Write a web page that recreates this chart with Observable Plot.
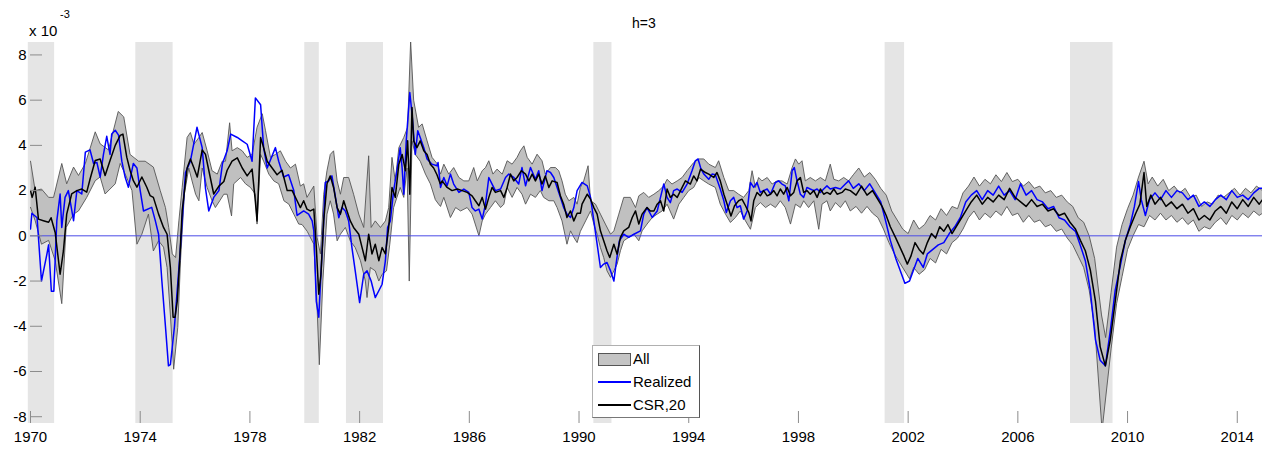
<!DOCTYPE html>
<html><head><meta charset="utf-8">
<script src="https://cdn.jsdelivr.net/npm/d3@7"></script>
<script src="https://cdn.jsdelivr.net/npm/@observablehq/plot@0.6"></script>
<style>
body{margin:0;background:#fff;font-family:"Liberation Sans",Arial,sans-serif;}
#wrap{position:relative;width:1268px;height:451px;overflow:hidden;}
.ov{position:absolute;color:#000;white-space:nowrap;line-height:1;}
#legend{position:absolute;left:592px;top:345px;width:108px;height:73px;background:#fff;border:1px solid #b0b0b0;border-right-color:#555;border-bottom-color:#777;box-sizing:border-box;font-size:15px;}
#legend .row{position:absolute;left:5px;height:20px;width:100px;}
#legend .sw{position:absolute;left:0;width:33px;}
#legend .lb{position:absolute;left:35px;top:0;line-height:20px;}
</style></head><body><div id="wrap"></div>
<script>
// Values are in units of 1e-3
const xTicks = [1970,1974,1978,1982,1986,1990,1994,1998,2002,2006,2010,2014];
const yTicks = [-8,-6,-4,-2,0,2,4,6,8];
const recessions = [[1969.92,1970.88],[1973.84,1975.2],[1980.0,1980.53],[1981.52,1982.87],[1990.54,1991.2],[2001.16,2001.87],[2007.92,2009.47]];
const legendLabels = ["All","Realized","CSR,20"];

const realized = [[1970.0,0.3],[1970.05,1.0],[1970.24,0.8],[1970.4,-2.0],[1970.6,-0.8],[1970.66,-0.4],[1970.76,-2.45],[1970.85,-2.45],[1970.96,0.67],[1971.08,1.85],[1971.14,0.37],[1971.26,1.7],[1971.38,2.0],[1971.57,0.67],[1971.69,2.0],[1971.87,1.85],[1972.0,3.7],[1972.17,3.8],[1972.3,3.2],[1972.42,3.25],[1972.54,2.6],[1972.66,3.6],[1972.78,4.4],[1972.9,3.6],[1972.96,4.5],[1973.09,4.67],[1973.21,4.45],[1973.33,3.3],[1973.45,2.6],[1973.57,2.15],[1973.75,3.2],[1973.88,3.0],[1974.0,2.0],[1974.12,1.1],[1974.42,1.26],[1974.55,0.67],[1974.67,0.07],[1974.79,-2.0],[1974.92,-4.0],[1975.03,-5.75],[1975.1,-5.7],[1975.25,-4.0],[1975.45,-0.8],[1975.65,2.8],[1975.83,3.3],[1976.07,4.8],[1976.26,3.9],[1976.38,2.1],[1976.5,1.1],[1976.68,1.7],[1976.87,2.0],[1977.0,3.2],[1977.17,3.76],[1977.3,4.5],[1977.54,4.35],[1977.72,4.2],[1977.9,4.05],[1978.08,3.3],[1978.2,6.1],[1978.39,5.8],[1978.5,3.9],[1978.63,3.0],[1978.93,3.9],[1979.05,3.3],[1979.23,2.6],[1979.41,2.7],[1979.6,2.0],[1979.72,0.9],[1979.96,1.1],[1980.14,0.96],[1980.27,0.66],[1980.33,0.22],[1980.42,-2.9],[1980.51,-3.6],[1980.59,-1.7],[1980.69,0.66],[1980.75,2.36],[1980.87,2.43],[1980.99,2.65],[1981.12,1.7],[1981.24,0.8],[1981.36,1.25],[1981.48,1.1],[1981.6,0.66],[1981.72,-0.52],[1981.84,-1.55],[1982.0,-2.95],[1982.15,-1.7],[1982.27,-1.55],[1982.42,-2.0],[1982.57,-2.73],[1982.7,-2.43],[1982.82,-2.14],[1982.94,-1.1],[1983.02,0.37],[1983.12,0.66],[1983.24,2.0],[1983.36,2.88],[1983.48,3.9],[1983.55,3.0],[1983.61,1.84],[1983.7,4.2],[1983.83,6.34],[1983.91,5.4],[1984.03,3.6],[1984.12,4.65],[1984.21,4.35],[1984.34,3.9],[1984.46,3.4],[1984.64,3.17],[1984.82,3.1],[1984.86,3.24],[1984.95,2.14],[1985.07,2.58],[1985.19,2.21],[1985.31,2.73],[1985.43,2.29],[1985.62,1.92],[1985.8,2.07],[1985.98,1.92],[1986.1,1.25],[1986.22,1.1],[1986.35,1.18],[1986.47,0.74],[1986.59,1.4],[1986.71,2.58],[1986.83,2.29],[1986.95,2.0],[1987.14,2.07],[1987.32,2.58],[1987.44,2.73],[1987.62,2.58],[1987.8,2.29],[1987.92,3.02],[1988.05,2.21],[1988.23,3.02],[1988.41,2.5],[1988.53,2.88],[1988.65,2.0],[1988.83,2.88],[1988.96,2.8],[1989.08,2.58],[1989.2,2.14],[1989.32,1.7],[1989.44,1.25],[1989.56,0.96],[1989.69,0.81],[1989.81,1.25],[1989.93,2.0],[1990.11,2.36],[1990.3,2.21],[1990.42,1.7],[1990.54,0.66],[1990.66,-0.37],[1990.78,-1.4],[1990.9,-1.25],[1991.02,-1.18],[1991.15,-1.55],[1991.27,-2.0],[1991.35,-1.25],[1991.47,-0.22],[1991.63,0.07],[1991.81,-0.07],[1992.0,0.07],[1992.24,0.22],[1992.36,0.96],[1992.48,1.25],[1992.67,0.81],[1992.85,1.1],[1992.97,1.7],[1993.09,2.29],[1993.21,1.7],[1993.33,1.47],[1993.45,2.0],[1993.58,2.07],[1993.76,1.92],[1993.94,2.29],[1994.12,2.88],[1994.24,3.32],[1994.34,3.4],[1994.43,3.02],[1994.55,2.73],[1994.73,2.5],[1994.85,2.73],[1994.97,2.7],[1995.15,2.07],[1995.28,1.55],[1995.37,1.03],[1995.52,1.55],[1995.64,1.7],[1995.76,1.25],[1995.88,1.33],[1996.0,0.74],[1996.13,1.1],[1996.25,2.36],[1996.37,2.14],[1996.49,2.36],[1996.61,1.92],[1996.73,2.0],[1996.86,2.07],[1996.98,1.84],[1997.16,2.36],[1997.28,2.43],[1997.4,2.29],[1997.52,2.21],[1997.65,1.55],[1997.77,2.88],[1997.85,3.02],[1997.95,2.43],[1998.07,1.84],[1998.19,1.7],[1998.31,2.14],[1998.43,2.07],[1998.56,2.0],[1998.68,2.07],[1998.8,1.92],[1998.92,2.07],[1999.04,2.21],[1999.16,2.07],[1999.35,2.14],[1999.53,2.07],[1999.71,2.29],[1999.83,2.43],[2000.0,2.1],[2000.2,2.3],[2000.4,2.0],[2000.6,2.3],[2000.8,1.9],[2001.0,1.5],[2001.15,0.8],[2001.35,-0.2],[2001.55,-1.0],[2001.7,-1.5],[2001.88,-2.1],[2002.05,-2.0],[2002.2,-1.5],[2002.35,-1.0],[2002.55,-1.4],[2002.7,-0.8],[2002.9,-0.6],[2003.1,-0.4],[2003.3,-0.3],[2003.5,0.1],[2003.7,0.4],[2003.9,0.8],[2004.1,1.5],[2004.3,1.8],[2004.5,2.0],[2004.7,1.6],[2004.9,2.0],[2005.1,1.8],[2005.3,2.2],[2005.5,1.8],[2005.7,2.0],[2005.9,1.6],[2006.1,2.3],[2006.3,1.8],[2006.5,2.0],[2006.7,1.6],[2006.9,1.5],[2007.1,1.2],[2007.3,1.3],[2007.5,0.8],[2007.7,0.7],[2007.9,0.4],[2008.1,0.2],[2008.3,-0.5],[2008.46,-1.1],[2008.64,-2.4],[2008.83,-4.6],[2009.0,-5.5],[2009.19,-5.75],[2009.37,-4.2],[2009.55,-2.4],[2009.74,-1.3],[2009.92,-0.2],[2010.1,0.5],[2010.25,1.3],[2010.4,2.4],[2010.5,1.6],[2010.65,0.9],[2010.8,1.6],[2011.0,1.9],[2011.2,1.6],[2011.4,2.0],[2011.6,1.7],[2011.8,2.0],[2012.0,1.9],[2012.2,1.6],[2012.4,1.8],[2012.6,1.3],[2012.8,1.5],[2013.0,1.3],[2013.2,1.6],[2013.4,1.8],[2013.6,1.6],[2013.8,2.0],[2014.0,1.7],[2014.2,1.8],[2014.4,1.6],[2014.6,1.9],[2014.8,2.1],[2014.92,2.1]];

const csr = [[1970.0,2.0],[1970.06,1.7],[1970.11,1.9],[1970.17,2.15],[1970.29,0.74],[1970.47,0.67],[1970.66,0.6],[1970.75,0.8],[1970.9,0.15],[1971.08,-1.7],[1971.2,-0.67],[1971.32,0.96],[1971.5,1.85],[1971.69,2.0],[1971.87,2.07],[1972.05,1.93],[1972.17,2.5],[1972.36,3.33],[1972.54,3.4],[1972.72,2.67],[1972.9,3.33],[1973.09,4.0],[1973.27,4.44],[1973.37,4.5],[1973.51,3.48],[1973.63,2.9],[1973.75,2.44],[1973.88,2.15],[1974.06,2.6],[1974.24,2.15],[1974.36,1.78],[1974.48,1.7],[1974.67,0.96],[1974.85,0.37],[1974.98,0.07],[1975.1,-1.4],[1975.2,-3.6],[1975.27,-3.6],[1975.35,-2.9],[1975.44,-1.1],[1975.53,1.1],[1975.71,3.0],[1975.83,3.4],[1975.96,3.0],[1976.08,2.6],[1976.26,3.8],[1976.38,3.6],[1976.5,2.9],[1976.68,1.85],[1976.87,2.2],[1977.05,2.4],[1977.17,2.9],[1977.35,3.3],[1977.54,3.45],[1977.72,3.0],[1977.9,2.65],[1978.08,2.95],[1978.2,1.5],[1978.26,0.66],[1978.39,4.35],[1978.5,3.9],[1978.63,3.3],[1978.81,3.0],[1978.99,2.7],[1979.17,2.9],[1979.36,2.0],[1979.54,2.0],[1979.72,1.55],[1979.84,1.25],[1979.96,1.55],[1980.08,1.18],[1980.2,1.1],[1980.33,1.18],[1980.42,-0.5],[1980.51,-2.58],[1980.59,-1.7],[1980.69,0.66],[1980.81,2.3],[1980.93,2.65],[1981.05,2.14],[1981.18,1.25],[1981.3,0.96],[1981.42,1.55],[1981.54,1.1],[1981.66,0.66],[1981.78,0.37],[1981.97,0.07],[1982.09,-0.52],[1982.21,-1.1],[1982.33,0.07],[1982.45,-0.8],[1982.57,-0.37],[1982.7,-1.1],[1982.82,-0.52],[1982.94,-0.8],[1983.06,0.37],[1983.18,2.14],[1983.3,1.7],[1983.43,3.17],[1983.55,3.6],[1983.67,2.88],[1983.75,4.2],[1983.83,1.84],[1983.91,5.68],[1983.97,4.2],[1984.09,3.9],[1984.21,4.2],[1984.34,3.76],[1984.46,3.6],[1984.58,3.17],[1984.7,3.0],[1984.82,2.7],[1984.94,2.3],[1985.01,2.43],[1985.19,2.14],[1985.37,2.0],[1985.56,2.07],[1985.74,2.0],[1985.92,1.92],[1986.1,1.77],[1986.22,1.55],[1986.35,1.33],[1986.47,1.7],[1986.59,1.18],[1986.71,1.7],[1986.83,2.14],[1986.95,1.92],[1987.14,2.0],[1987.26,1.7],[1987.38,2.14],[1987.5,2.73],[1987.62,2.43],[1987.74,2.58],[1987.9,2.88],[1988.05,2.73],[1988.17,2.43],[1988.29,2.73],[1988.41,2.43],[1988.53,2.73],[1988.65,2.29],[1988.77,2.65],[1988.9,2.14],[1989.02,2.43],[1989.2,2.36],[1989.32,1.77],[1989.44,1.4],[1989.56,0.81],[1989.69,1.1],[1989.81,0.66],[1989.93,1.0],[1990.05,1.0],[1990.11,1.4],[1990.3,1.84],[1990.42,1.62],[1990.54,1.25],[1990.66,0.96],[1990.78,0.22],[1990.9,-0.22],[1991.02,-0.66],[1991.12,-0.96],[1991.27,-0.37],[1991.39,-0.81],[1991.51,-0.07],[1991.63,0.22],[1991.81,0.37],[1991.94,0.81],[1992.06,1.1],[1992.18,0.52],[1992.3,0.96],[1992.48,1.25],[1992.6,1.1],[1992.73,1.1],[1992.85,1.4],[1992.97,1.55],[1993.09,1.1],[1993.21,2.07],[1993.33,1.7],[1993.45,1.84],[1993.58,1.7],[1993.76,2.14],[1993.88,2.43],[1994.06,2.29],[1994.18,2.65],[1994.3,2.43],[1994.43,2.95],[1994.61,2.8],[1994.73,2.73],[1994.91,2.58],[1995.03,2.8],[1995.15,2.43],[1995.28,1.84],[1995.4,1.4],[1995.54,0.88],[1995.67,1.33],[1995.82,1.55],[1995.94,1.62],[1996.07,1.33],[1996.19,1.03],[1996.27,0.66],[1996.37,1.55],[1996.49,1.92],[1996.61,1.77],[1996.73,2.0],[1996.86,1.77],[1996.98,1.84],[1997.1,2.0],[1997.22,1.77],[1997.34,2.07],[1997.46,1.84],[1997.59,2.14],[1997.71,1.77],[1997.83,1.92],[1997.95,2.43],[1998.07,2.58],[1998.19,1.92],[1998.31,2.0],[1998.43,1.84],[1998.56,2.0],[1998.68,1.7],[1998.8,2.07],[1998.92,1.84],[1999.04,1.92],[1999.16,1.84],[1999.29,2.07],[1999.41,1.84],[1999.59,1.92],[1999.71,2.07],[1999.89,2.0],[2000.1,1.8],[2000.3,2.2],[2000.5,1.8],[2000.7,2.0],[2000.9,1.6],[2001.05,1.3],[2001.2,0.9],[2001.35,0.4],[2001.55,-0.1],[2001.7,-0.5],[2001.85,-0.9],[2001.97,-1.25],[2002.1,-0.9],[2002.25,-0.3],[2002.4,-0.6],[2002.55,-0.8],[2002.7,-0.3],[2002.85,0.1],[2003.0,-0.1],[2003.15,0.4],[2003.3,0.2],[2003.45,0.5],[2003.6,0.1],[2003.75,0.4],[2003.9,0.7],[2004.1,1.1],[2004.3,1.5],[2004.5,1.8],[2004.7,1.4],[2004.9,1.7],[2005.1,1.5],[2005.3,1.8],[2005.5,1.6],[2005.7,2.1],[2005.9,1.7],[2006.1,1.5],[2006.3,1.3],[2006.5,1.6],[2006.7,1.3],[2006.9,1.4],[2007.1,1.1],[2007.3,1.2],[2007.5,0.9],[2007.7,1.0],[2007.9,0.6],[2008.1,0.3],[2008.28,-0.2],[2008.46,-0.66],[2008.64,-1.5],[2008.83,-2.9],[2009.0,-4.9],[2009.19,-5.75],[2009.37,-4.6],[2009.55,-2.9],[2009.74,-1.1],[2009.92,-0.2],[2010.1,0.4],[2010.3,1.0],[2010.45,1.4],[2010.6,2.8],[2010.7,1.3],[2010.85,1.8],[2011.0,1.4],[2011.2,1.7],[2011.4,1.3],[2011.6,1.5],[2011.8,1.2],[2012.0,1.4],[2012.2,1.0],[2012.4,1.2],[2012.6,0.7],[2012.8,0.9],[2013.0,0.7],[2013.2,1.1],[2013.4,1.3],[2013.6,1.0],[2013.8,1.5],[2014.0,1.2],[2014.2,1.6],[2014.4,1.3],[2014.6,1.7],[2014.8,1.4],[2014.92,1.6]];

const bandHigh = [[1970.0,3.3],[1970.17,2.0],[1970.4,2.07],[1970.66,1.7],[1970.84,1.7],[1971.14,3.2],[1971.32,2.3],[1971.57,3.04],[1971.75,2.67],[1972.0,3.2],[1972.36,4.6],[1972.54,4.07],[1972.84,3.8],[1973.2,5.5],[1973.4,5.26],[1973.63,3.6],[1973.94,3.3],[1974.18,3.3],[1974.48,3.04],[1974.73,2.0],[1974.92,1.25],[1975.04,0.37],[1975.17,-0.8],[1975.29,-0.96],[1975.41,0.66],[1975.53,2.14],[1975.71,4.35],[1975.83,4.57],[1975.96,4.05],[1976.14,4.35],[1976.26,4.57],[1976.44,3.76],[1976.62,2.88],[1976.81,2.73],[1976.99,3.3],[1977.11,3.3],[1977.26,5.0],[1977.35,3.76],[1977.54,3.9],[1977.72,3.76],[1977.9,3.47],[1978.08,3.6],[1978.26,4.8],[1978.45,5.4],[1978.57,4.65],[1978.75,3.47],[1978.93,3.6],[1979.11,3.76],[1979.3,3.3],[1979.48,3.0],[1979.66,3.17],[1979.84,2.2],[1979.96,2.3],[1980.08,1.7],[1980.33,2.2],[1980.45,-0.07],[1980.57,-0.8],[1980.69,1.84],[1980.81,2.88],[1980.93,3.6],[1981.05,3.76],[1981.18,2.43],[1981.3,1.84],[1981.42,2.58],[1981.6,2.58],[1981.78,1.84],[1981.97,0.96],[1982.15,0.37],[1982.33,3.54],[1982.42,0.37],[1982.57,0.66],[1982.76,0.37],[1982.94,0.66],[1983.06,1.25],[1983.18,3.47],[1983.3,2.43],[1983.43,3.9],[1983.61,4.35],[1983.75,4.8],[1983.86,8.6],[1983.97,6.0],[1984.15,4.8],[1984.28,4.95],[1984.46,4.2],[1984.64,3.47],[1984.82,3.2],[1984.95,2.73],[1985.07,3.17],[1985.25,2.73],[1985.43,3.02],[1985.62,2.58],[1985.8,2.43],[1985.98,2.43],[1986.16,3.02],[1986.29,2.43],[1986.47,2.88],[1986.59,3.02],[1986.71,3.32],[1986.86,2.73],[1987.01,2.95],[1987.2,2.73],[1987.38,3.32],[1987.56,3.17],[1987.74,3.47],[1987.86,3.76],[1987.99,3.98],[1988.11,3.47],[1988.29,3.17],[1988.47,3.61],[1988.65,3.32],[1988.77,2.73],[1988.96,3.02],[1989.14,3.02],[1989.26,2.88],[1989.38,2.43],[1989.5,1.84],[1989.63,1.55],[1989.81,1.7],[1989.93,1.4],[1990.05,2.14],[1990.17,2.43],[1990.33,3.1],[1990.42,1.55],[1990.6,1.4],[1990.78,0.96],[1990.96,0.52],[1991.15,0.07],[1991.27,0.22],[1991.45,0.96],[1991.63,1.7],[1991.87,1.7],[1992.06,1.25],[1992.18,1.77],[1992.36,1.92],[1992.54,1.7],[1992.73,1.84],[1992.91,2.0],[1993.09,2.21],[1993.21,2.5],[1993.39,2.29],[1993.58,2.43],[1993.76,2.58],[1993.94,2.88],[1994.18,3.24],[1994.37,3.4],[1994.55,3.4],[1994.73,3.17],[1994.97,3.02],[1995.09,3.32],[1995.28,2.58],[1995.46,2.0],[1995.64,2.0],[1995.82,1.84],[1996.0,1.7],[1996.19,2.0],[1996.31,2.88],[1996.43,2.14],[1996.55,2.58],[1996.67,2.43],[1996.86,2.58],[1997.04,2.29],[1997.22,2.43],[1997.4,2.43],[1997.59,2.29],[1997.77,3.02],[1997.89,3.4],[1998.01,3.17],[1998.13,3.32],[1998.25,2.43],[1998.43,2.58],[1998.62,2.43],[1998.8,2.58],[1998.98,2.43],[1999.16,3.17],[1999.29,2.5],[1999.47,2.43],[1999.65,2.58],[1999.83,2.43],[2000.0,2.7],[2000.2,3.0],[2000.4,2.6],[2000.6,2.8],[2000.8,2.5],[2001.0,2.1],[2001.2,1.8],[2001.4,1.1],[2001.6,0.7],[2001.8,0.3],[2002.0,0.1],[2002.2,0.7],[2002.4,0.3],[2002.6,0.5],[2002.8,0.9],[2003.0,0.7],[2003.2,1.2],[2003.4,0.9],[2003.6,1.3],[2003.8,1.2],[2004.0,1.9],[2004.2,2.2],[2004.4,2.6],[2004.6,2.2],[2004.8,2.5],[2005.0,2.3],[2005.2,2.7],[2005.4,2.4],[2005.6,2.8],[2005.8,2.4],[2006.0,2.5],[2006.2,2.2],[2006.4,2.4],[2006.6,2.1],[2006.8,2.2],[2007.0,1.9],[2007.2,2.0],[2007.4,1.7],[2007.6,1.8],[2007.8,1.5],[2008.0,1.3],[2008.2,0.8],[2008.4,0.6],[2008.6,0.0],[2008.8,-1.0],[2009.05,-3.5],[2009.2,-4.5],[2009.4,-2.5],[2009.6,-0.5],[2009.8,0.5],[2010.0,1.2],[2010.2,1.8],[2010.4,2.6],[2010.6,3.3],[2010.75,2.3],[2010.9,2.6],[2011.1,2.2],[2011.3,2.5],[2011.5,2.0],[2011.7,2.2],[2011.9,1.9],[2012.1,2.1],[2012.3,1.7],[2012.5,1.8],[2012.7,1.3],[2012.9,1.5],[2013.1,1.4],[2013.3,1.8],[2013.5,1.7],[2013.7,1.9],[2013.9,2.1],[2014.1,1.8],[2014.3,2.1],[2014.5,1.9],[2014.7,2.2],[2014.92,2.0]];

const bandLow = [[1970.0,1.26],[1970.17,0.67],[1970.4,-0.37],[1970.66,-0.2],[1970.9,-1.1],[1971.14,-3.0],[1971.3,0.37],[1971.57,0.96],[1971.75,1.1],[1972.05,1.7],[1972.36,2.44],[1972.54,2.6],[1972.72,1.85],[1973.09,2.3],[1973.27,3.2],[1973.5,2.6],[1973.7,2.0],[1973.88,-0.37],[1974.06,0.07],[1974.3,0.96],[1974.48,-0.67],[1974.67,-0.22],[1974.85,-0.5],[1974.98,-1.4],[1975.1,-3.5],[1975.22,-5.9],[1975.37,-4.05],[1975.47,-1.1],[1975.61,1.84],[1975.77,3.0],[1975.89,2.43],[1976.02,1.84],[1976.14,1.55],[1976.26,3.0],[1976.44,2.14],[1976.62,1.55],[1976.74,1.25],[1976.9,1.55],[1977.05,1.84],[1977.17,1.84],[1977.33,0.88],[1977.41,2.3],[1977.66,2.58],[1977.84,2.3],[1978.02,2.14],[1978.2,1.84],[1978.26,0.52],[1978.39,3.6],[1978.5,3.3],[1978.69,2.73],[1978.87,2.43],[1979.05,2.3],[1979.24,1.55],[1979.42,1.4],[1979.6,0.96],[1979.78,0.52],[1979.9,0.5],[1980.09,0.2],[1980.33,-0.37],[1980.45,-3.17],[1980.53,-5.7],[1980.66,-2.0],[1980.81,0.96],[1980.93,1.55],[1981.05,0.96],[1981.18,-0.22],[1981.3,0.07],[1981.48,0.37],[1981.66,-0.22],[1981.84,-0.52],[1982.03,-1.1],[1982.21,-2.0],[1982.27,-2.73],[1982.39,-1.4],[1982.57,-1.55],[1982.7,-2.0],[1982.82,-1.7],[1982.98,-1.55],[1983.1,-0.37],[1983.24,1.25],[1983.36,1.7],[1983.48,2.14],[1983.61,1.7],[1983.73,3.0],[1983.81,-2.0],[1983.91,4.2],[1984.03,3.6],[1984.21,3.3],[1984.4,2.73],[1984.58,2.3],[1984.76,1.6],[1984.88,1.4],[1984.95,1.3],[1985.07,1.7],[1985.31,0.81],[1985.5,1.25],[1985.68,1.1],[1985.92,1.25],[1986.1,0.96],[1986.35,0.0],[1986.47,0.66],[1986.59,0.96],[1986.77,1.25],[1986.95,1.55],[1987.14,1.25],[1987.26,1.4],[1987.38,2.14],[1987.56,1.7],[1987.74,2.14],[1987.92,1.84],[1988.05,1.4],[1988.23,1.84],[1988.41,1.7],[1988.59,2.0],[1988.71,1.7],[1988.9,1.55],[1989.08,1.55],[1989.2,1.25],[1989.38,0.66],[1989.56,-0.37],[1989.69,0.22],[1989.81,-0.07],[1989.93,-0.3],[1990.05,0.2],[1990.24,0.66],[1990.42,1.1],[1990.54,0.52],[1990.66,0.07],[1990.78,-0.52],[1990.9,-0.96],[1991.02,-1.55],[1991.15,-1.84],[1991.27,-1.55],[1991.39,-1.25],[1991.51,-0.66],[1991.63,-0.22],[1991.81,-0.07],[1992.0,0.07],[1992.18,-0.22],[1992.3,0.22],[1992.48,0.52],[1992.67,0.81],[1992.85,0.96],[1993.03,1.1],[1993.21,1.4],[1993.45,0.74],[1993.64,1.4],[1993.82,1.7],[1994.0,2.0],[1994.18,2.14],[1994.37,2.58],[1994.55,2.43],[1994.73,2.29],[1994.97,2.14],[1995.15,1.4],[1995.34,0.96],[1995.52,0.59],[1995.7,0.81],[1995.88,1.1],[1996.07,0.66],[1996.25,0.29],[1996.43,1.25],[1996.61,1.47],[1996.8,1.25],[1996.98,1.4],[1997.16,1.25],[1997.34,1.55],[1997.52,1.25],[1997.71,0.52],[1997.89,1.4],[1998.07,1.25],[1998.19,1.55],[1998.37,1.25],[1998.56,1.55],[1998.74,0.29],[1998.86,1.4],[1999.04,1.55],[1999.16,1.1],[1999.35,1.47],[1999.53,1.25],[1999.71,1.55],[1999.89,1.1],[2000.1,1.3],[2000.3,1.0],[2000.5,1.3],[2000.7,1.0],[2000.9,0.8],[2001.1,0.3],[2001.3,-0.3],[2001.5,-0.8],[2001.7,-1.2],[2001.9,-1.6],[2002.05,-1.9],[2002.2,-1.4],[2002.4,-1.7],[2002.6,-1.5],[2002.8,-1.0],[2003.0,-1.2],[2003.2,-0.6],[2003.4,-0.8],[2003.6,-0.3],[2003.8,-0.1],[2004.0,0.3],[2004.2,0.8],[2004.4,1.1],[2004.6,0.7],[2004.8,1.0],[2005.0,0.8],[2005.2,1.1],[2005.4,0.9],[2005.6,1.3],[2005.8,0.9],[2006.0,1.0],[2006.2,0.6],[2006.4,0.9],[2006.6,0.6],[2006.8,0.7],[2007.0,0.4],[2007.2,0.5],[2007.4,0.2],[2007.6,0.3],[2007.8,-0.1],[2008.0,-0.4],[2008.2,-0.9],[2008.4,-1.4],[2008.6,-2.4],[2008.8,-4.0],[2009.07,-8.6],[2009.4,-5.0],[2009.6,-3.0],[2009.8,-1.8],[2010.0,-0.6],[2010.2,0.0],[2010.4,0.5],[2010.6,0.4],[2010.8,0.9],[2011.0,0.7],[2011.2,1.0],[2011.4,0.7],[2011.6,0.9],[2011.8,0.6],[2012.0,0.8],[2012.2,0.5],[2012.4,0.7],[2012.6,0.2],[2012.8,0.4],[2013.0,0.3],[2013.2,0.6],[2013.4,0.8],[2013.6,0.5],[2013.8,0.9],[2014.0,0.7],[2014.2,1.0],[2014.4,0.8],[2014.6,1.1],[2014.8,0.9],[2014.92,1.0]];

const W = 1268, H = 451, mL = 30, mR = 6, mT = 42, mB = 28;
const plotW = W - mL - mR, plotH = H - mT - mB;
const toObj = a => a.map(([t, v]) => ({t, v}));
const bandPoly = [...toObj(bandHigh), ...toObj(bandLow).reverse()];

const chart = Plot.plot({
  width: W, height: H,
  marginLeft: mL, marginRight: mR, marginTop: mT, marginBottom: mB,
  style: {fontFamily: "'Liberation Sans', Arial, sans-serif", fontSize: "15px", background: "#fff", color: "#000", overflow: "visible"},
  x: {domain: [1970, 2014.92], axis: null, label: null},
  y: {domain: [-8.3, 8.55], axis: null, label: null},
  marks: [
    Plot.rect(recessions, {x1: d => d[0], x2: d => d[1], fill: "#e5e5e5"}),
    Plot.line(bandPoly, {x: "t", y: "v", fill: "#c0c0c0", stroke: "none", clip: true}),
    Plot.line(toObj(bandHigh), {x: "t", y: "v", stroke: "#555", strokeWidth: 0.9, clip: true}),
    Plot.line(toObj(bandLow), {x: "t", y: "v", stroke: "#555", strokeWidth: 0.9, clip: true}),
    Plot.ruleY([0], {stroke: "#4b4be6", strokeWidth: 1}),
    Plot.line(toObj(realized), {x: "t", y: "v", stroke: "#0000ff", strokeWidth: 1.5, clip: true}),
    Plot.line(toObj(csr), {x: "t", y: "v", stroke: "#000", strokeWidth: 1.5, clip: true}),
    Plot.tickY(yTicks, {y: d => d, stroke: "#8c8c8c", insetRight: plotW - 12}),
    Plot.tickX(xTicks, {x: d => d, stroke: "#8c8c8c", insetTop: plotH - 12}),
    Plot.axisY({ticks: yTicks, tickSize: 0, tickPadding: 4, tickFormat: d => String(d), fontSize: 15, label: null}),
    Plot.axisX({ticks: xTicks, tickSize: 0, tickPadding: 8, tickFormat: d => String(d), fontSize: 15, label: null})
  ]
});

const wrap = document.getElementById("wrap");
wrap.appendChild(chart);

function addText(txt, css) {
  const d = document.createElement("div");
  d.className = "ov";
  d.textContent = txt;
  Object.assign(d.style, css);
  wrap.appendChild(d);
  return d;
}
addText("x 10", {left: "29px", top: "23px", fontSize: "15px"});
addText("-3", {left: "60px", top: "9px", fontSize: "11px"});
addText("h=3", {left: "632px", top: "16px", fontSize: "14px"});

// legend
const lg = document.createElement("div");
lg.id = "legend";
const swatches = [
  {top: 3, html: '<div class="sw" style="top:4px;height:13px;background:#c4c4c4;border:1px solid #555;box-sizing:border-box"></div>'},
  {top: 26, html: '<div class="sw" style="top:9px;height:2px;background:#0000ff"></div>'},
  {top: 49, html: '<div class="sw" style="top:9px;height:2px;background:#000"></div>'}
];
legendLabels.forEach((lab, i) => {
  const r = document.createElement("div");
  r.className = "row";
  r.style.top = swatches[i].top + "px";
  r.innerHTML = swatches[i].html + '<div class="lb"></div>';
  r.querySelector(".lb").textContent = lab;
  lg.appendChild(r);
});
wrap.appendChild(lg);
</script>
</body></html>
